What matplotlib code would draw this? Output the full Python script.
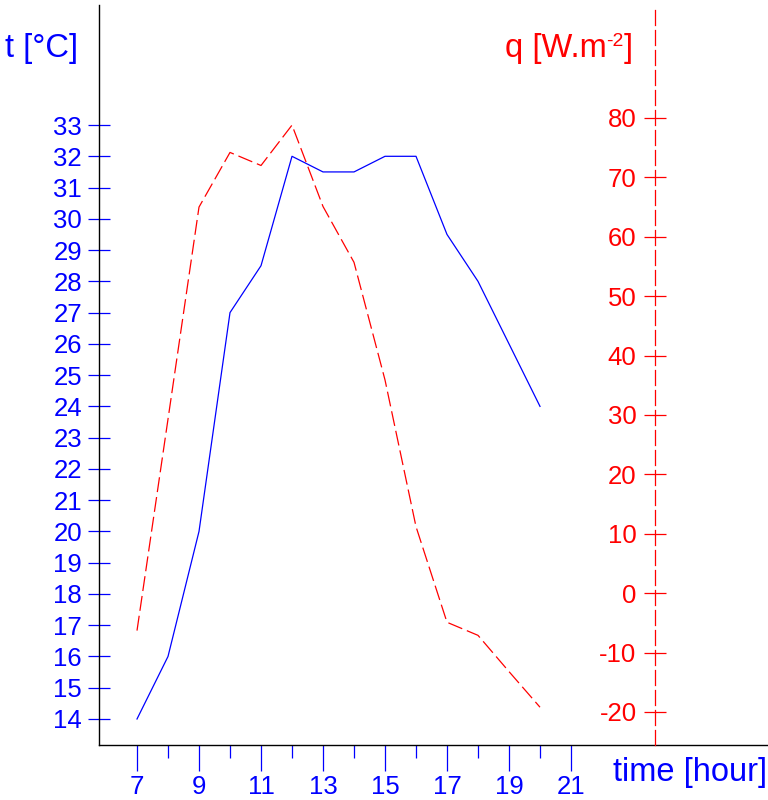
import matplotlib.pyplot as plt

plt.rcParams['font.family'] = ['Liberation Sans', 'DejaVu Sans']
plt.rcParams['axes.unicode_minus'] = False

hours = [7, 8, 9, 10, 11, 12, 13, 14, 15, 16, 17, 18, 19, 20]
temp = [14, 16, 20, 27, 28.5, 32, 31.5, 31.5, 32, 32, 29.5, 28, 26, 24]
flux = [-6.3, 29.3, 65.0, 74.2, 72.0, 78.8, 65.1, 55.7, 35.9, 11.2, -4.9, -7.1, -13.2, -19.2]

t_ticks = list(range(14, 34))
q_ticks = list(range(-20, 81, 10))
x_major = list(range(7, 22, 2))
x_minor = list(range(8, 21, 2))

BLUE = '#0000ff'
RED = '#ff0000'

W, H = 768, 800
fig = plt.figure(figsize=(W / 100, H / 100), dpi=100)
ax = fig.add_axes([99 / W, 55 / H, 1 - 99 / W, (745 - 5) / H])

# axis scales chosen to match the pixel grid of the reference
ax.set_xlim(5.774, 27.355)
ax.set_ylim(13.168, 36.84)

ax.plot(hours, temp, color=BLUE, lw=0.9)

ax.spines['top'].set_visible(False)
ax.spines['right'].set_visible(False)
ax.spines['left'].set_linewidth(1.0)
ax.spines['bottom'].set_linewidth(1.0)

ax.set_yticks(t_ticks)
ax.tick_params(axis='y', direction='inout', length=16.5, width=0.9,
               color=BLUE, labelcolor=BLUE, labelsize=18.5, pad=4)
ax.set_xticks(x_major)
ax.set_xticks(x_minor, minor=True)
ax.tick_params(axis='x', which='major', direction='out', length=18.7, width=0.9,
               color=BLUE, labelcolor=BLUE, labelsize=18.5, pad=3)
ax.tick_params(axis='x', which='minor', direction='out', length=9.4, width=0.9,
               color=BLUE)

ax2 = ax.twinx()
ax2.set_ylim(-25.56, 99.02)
ax2.plot(hours, flux, color=RED, lw=0.9, linestyle=(0, (12, 4)))
for s in ['top', 'right', 'bottom']:
    ax2.spines[s].set_visible(False)
ax2.spines['left'].set_visible(True)
ax2.spines['left'].set_position(('data', 23.71))
ax2.spines['left'].set_color(RED)
ax2.spines['left'].set_linestyle((0, (12, 4)))
ax2.spines['left'].set_linewidth(0.9)
ax2.yaxis.set_ticks_position('left')
ax2.yaxis.set_label_position('left')
ax2.set_yticks(q_ticks)
ax2.tick_params(axis='y', direction='inout', length=16.5, width=0.9,
                color=RED, labelcolor=RED, labelsize=18.5, pad=5)

fig.text(5 / W, 1 - 48 / H, 't [°C]', color=BLUE, fontsize=23.5,
         ha='left', va='center')
fig.text(767 / W, 1 - 773 / H, 'time [hour]', color=BLUE, fontsize=23.5,
         ha='right', va='center')

# q label built from pieces so the superscript keeps a plain hyphen
r = fig.canvas.get_renderer()
close = fig.text(633 / W, 1 - 48 / H, ']', color=RED, fontsize=23.5,
                 ha='right', va='center')
x0 = close.get_window_extent(r).x0
sup = fig.text(x0 / W, 1 - 41 / H, '-2', color=RED, fontsize=14,
               ha='right', va='center')
x1 = sup.get_window_extent(r).x0
fig.text(x1 / W, 1 - 48 / H, 'q [W.m', color=RED, fontsize=23.5,
         ha='right', va='center')

fig.savefig('out.png', dpi=100)
